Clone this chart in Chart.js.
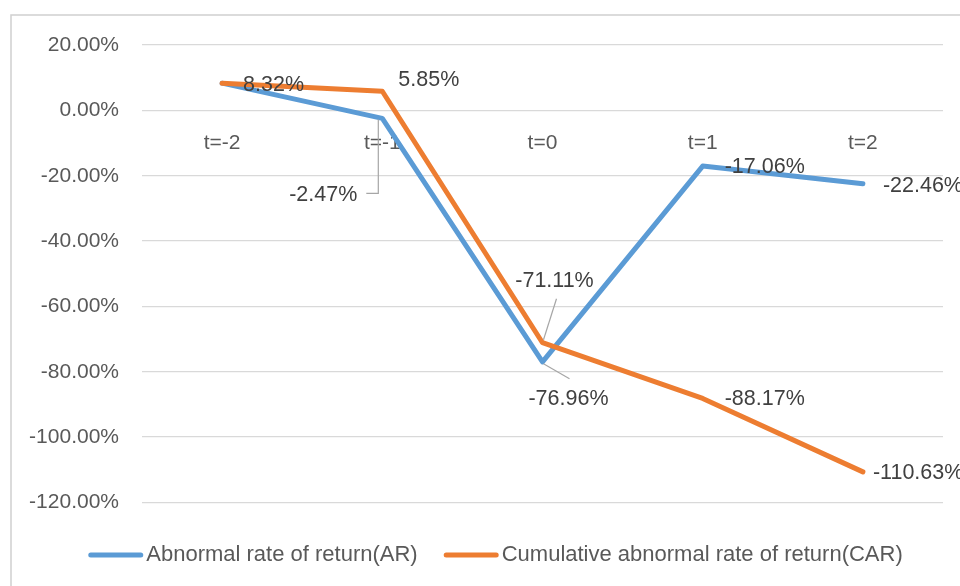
<!DOCTYPE html>
<html>
<head>
<meta charset="utf-8">
<script src="https://cdn.jsdelivr.net/npm/chart.js@4.4.1/dist/chart.umd.min.js"></script>
<style>
  html, body { margin: 0; padding: 0; background: #ffffff; }
  #wrap { width: 960px; height: 586px; position: relative; overflow: hidden; }
</style>
</head>
<body>
<div id="wrap"><canvas id="chart" width="960" height="586"></canvas></div>
<script>
// Event window and series values (percent)
const periods = ['t=-2', 't=-1', 't=0', 't=1', 't=2'];
const arValues = [8.32, -2.47, -76.96, -17.06, -22.46];
const carValues = [8.32, 5.85, -71.11, -88.17, -110.63];
const yTicks = [20, 0, -20, -40, -60, -80, -100, -120];
const seriesNames = ['Abnormal rate of return(AR)', 'Cumulative abnormal rate of return(CAR)'];

const FONT = "'Liberation Sans', Arial, sans-serif";
const AXIS_COLOR = '#595959';
const LABEL_COLOR = '#404040';
const GRID_COLOR = '#d9d9d9';
const LEADER_COLOR = '#a6a6a6';
const COLORS = ['#5B9BD5', '#ED7D31'];

// Where each value label sits relative to its point (pixels), with optional leader lines
const labelLayout = [
  [
    null,
    { dx: -25, dy: 77, align: 'right', leader: [[-16, 75], [-4, 75], [-4, 1]] },
    { dx: 26, dy: 37, align: 'center', leader: [[27, 17], [1, 2]] },
    { dx: 22, dy: 1, align: 'left' },
    { dx: 20, dy: 2, align: 'left' }
  ],
  [
    { dx: 21, dy: 2, align: 'left' },
    { dx: 16, dy: -11, align: 'left' },
    { dx: 12, dy: -62, align: 'center', leader: [[14, -44], [1, -3]] },
    { dx: 22, dy: 1, align: 'left' },
    { dx: 10, dy: 1, align: 'left' }
  ]
];

const pct = v => Number(v).toFixed(2) + '%';

// Light frame around the chart
const framePlugin = {
  id: 'frame',
  beforeDraw(chart) {
    const ctx = chart.ctx;
    ctx.save();
    ctx.fillStyle = '#ffffff';
    ctx.fillRect(0, 0, chart.width, chart.height);
    ctx.strokeStyle = '#d0d0d0';
    ctx.lineWidth = 1.5;
    ctx.strokeRect(11, 15, chart.width + 50, chart.height + 50);
    ctx.restore();
  }
};

// Value labels next to each point
const valueLabelPlugin = {
  id: 'valueLabels',
  afterDatasetsDraw(chart) {
    const ctx = chart.ctx;
    ctx.save();
    ctx.font = '21.5px ' + FONT;
    ctx.textBaseline = 'middle';
    chart.data.datasets.forEach((ds, di) => {
      const meta = chart.getDatasetMeta(di);
      meta.data.forEach((pt, i) => {
        const place = labelLayout[di][i];
        if (!place) return;
        if (place.leader) {
          ctx.strokeStyle = LEADER_COLOR;
          ctx.lineWidth = 1.2;
          ctx.beginPath();
          place.leader.forEach(([lx, ly], k) => {
            if (k === 0) ctx.moveTo(pt.x + lx, pt.y + ly);
            else ctx.lineTo(pt.x + lx, pt.y + ly);
          });
          ctx.stroke();
        }
        ctx.fillStyle = LABEL_COLOR;
        ctx.textAlign = place.align;
        ctx.fillText(pct(ds.data[i]), pt.x + place.dx, pt.y + place.dy);
      });
    });
    ctx.restore();
  }
};

// Legend row with line samples
const legendPlugin = {
  id: 'lineLegend',
  afterDraw(chart) {
    const ctx = chart.ctx;
    const sample = 55, gap = 3, itemGap = 26, cy = 555, centerX = 495.5;
    ctx.save();
    ctx.font = '22px ' + FONT;
    ctx.textBaseline = 'middle';
    ctx.textAlign = 'left';
    const items = chart.data.datasets.map(ds => ({ ds, w: ctx.measureText(ds.label).width }));
    const total = items.reduce((s, it) => s + sample + gap + it.w, 0) + itemGap * (items.length - 1);
    let x = centerX - total / 2;
    items.forEach(it => {
      ctx.strokeStyle = it.ds.borderColor;
      ctx.lineWidth = 5;
      ctx.lineCap = 'round';
      ctx.beginPath();
      ctx.moveTo(x + 2.5, cy);
      ctx.lineTo(x + sample - 2.5, cy);
      ctx.stroke();
      ctx.fillStyle = AXIS_COLOR;
      ctx.fillText(it.ds.label, x + sample + gap, cy);
      x += sample + gap + it.w + itemGap;
    });
    ctx.restore();
  }
};

new Chart(document.getElementById('chart'), {
  type: 'line',
  data: {
    labels: periods,
    datasets: [
      {
        label: seriesNames[0],
        data: arValues,
        borderColor: COLORS[0],
        backgroundColor: COLORS[0],
        borderWidth: 5,
        pointRadius: 0,
        tension: 0,
        borderCapStyle: 'round',
        borderJoinStyle: 'round',
        order: 2
      },
      {
        label: seriesNames[1],
        data: carValues,
        borderColor: COLORS[1],
        backgroundColor: COLORS[1],
        borderWidth: 5,
        pointRadius: 0,
        tension: 0,
        borderCapStyle: 'round',
        borderJoinStyle: 'round',
        order: 1
      }
    ]
  },
  options: {
    responsive: false,
    animation: false,
    devicePixelRatio: 1,
    layout: { padding: { left: 0, top: 45, right: 17, bottom: 83.5 } },
    plugins: {
      legend: { display: false },
      tooltip: { enabled: false }
    },
    scales: {
      x: {
        position: { y: 0 },
        offset: true,
        grid: { display: false },
        border: { display: false },
        ticks: {
          color: AXIS_COLOR,
          font: { family: FONT, size: 21 },
          padding: 12,
          maxRotation: 0,
          autoSkip: false
        }
      },
      y: {
        min: Math.min(...yTicks),
        max: Math.max(...yTicks),
        afterBuildTicks(scale) {
          scale.ticks = yTicks.slice().reverse().map(v => ({ value: v }));
        },
        grid: { color: GRID_COLOR, lineWidth: 1.3, drawTicks: false },
        border: { display: false },
        ticks: {
          color: AXIS_COLOR,
          font: { family: FONT, size: 21 },
          padding: 23,
          callback: v => pct(v)
        },
        afterFit(scale) { scale.width = 142; }
      }
    }
  },
  plugins: [framePlugin, valueLabelPlugin, legendPlugin]
});
</script>
</body>
</html>
